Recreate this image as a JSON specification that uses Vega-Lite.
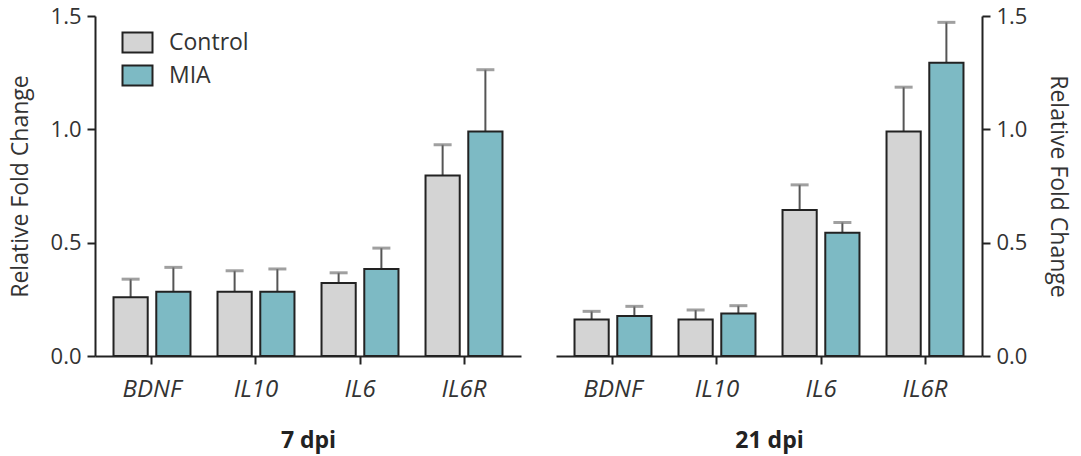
{
  "$schema": "https://vega.github.io/schema/vega-lite/v6.json",
  "background": "white",
  "padding": {"left": 9, "top": 5, "right": 7, "bottom": 4},
  "datasets": {
    "expr": [
      {"dpi": "7 dpi", "gene": "BDNF", "group": "Control", "mean": 0.259, "upper": 0.339},
      {"dpi": "7 dpi", "gene": "BDNF", "group": "MIA", "mean": 0.284, "upper": 0.391},
      {"dpi": "7 dpi", "gene": "IL10", "group": "Control", "mean": 0.284, "upper": 0.376},
      {"dpi": "7 dpi", "gene": "IL10", "group": "MIA", "mean": 0.284, "upper": 0.384},
      {"dpi": "7 dpi", "gene": "IL6", "group": "Control", "mean": 0.322, "upper": 0.367},
      {"dpi": "7 dpi", "gene": "IL6", "group": "MIA", "mean": 0.384, "upper": 0.476},
      {"dpi": "7 dpi", "gene": "IL6R", "group": "Control", "mean": 0.796, "upper": 0.932},
      {"dpi": "7 dpi", "gene": "IL6R", "group": "MIA", "mean": 0.99, "upper": 1.263},
      {"dpi": "21 dpi", "gene": "BDNF", "group": "Control", "mean": 0.161, "upper": 0.197},
      {"dpi": "21 dpi", "gene": "BDNF", "group": "MIA", "mean": 0.177, "upper": 0.219},
      {"dpi": "21 dpi", "gene": "IL10", "group": "Control", "mean": 0.161, "upper": 0.203},
      {"dpi": "21 dpi", "gene": "IL10", "group": "MIA", "mean": 0.188, "upper": 0.222},
      {"dpi": "21 dpi", "gene": "IL6", "group": "Control", "mean": 0.644, "upper": 0.755},
      {"dpi": "21 dpi", "gene": "IL6", "group": "MIA", "mean": 0.544, "upper": 0.589},
      {"dpi": "21 dpi", "gene": "IL6R", "group": "Control", "mean": 0.99, "upper": 1.186},
      {"dpi": "21 dpi", "gene": "IL6R", "group": "MIA", "mean": 1.294, "upper": 1.472}
    ]
  },
  "config": {
    "view": {"stroke": null},
    "font": "Open Sans",
    "axis": {
      "grid": false,
      "domainColor": "#222",
      "domainWidth": 2,
      "tickColor": "#222",
      "tickWidth": 2,
      "tickSize": 8,
      "labelFont": "Open Sans",
      "labelFontSize": 22,
      "labelColor": "#333",
      "titleFont": "Open Sans",
      "titleFontSize": 23,
      "titleColor": "#333",
      "titleFontWeight": "normal"
    }
  },
  "spacing": 35,
  "resolve": {"scale": {"color": "independent"}, "legend": {"color": "independent"}},
  "hconcat": [
    {
      "width": 426,
      "height": 340,
      "data": {"name": "expr"},
      "transform": [{"filter": "datum.dpi == '7 dpi'"}],
      "encoding": {
        "x": {
          "field": "gene", "type": "nominal",
          "sort": ["BDNF", "IL10", "IL6", "IL6R"],
          "scale": {"paddingInner": 0.26, "paddingOuter": 0.178},
          "axis": {"title": "7 dpi", "labelAngle": 0, "labelFontStyle": "italic", "labelFontSize": 24, "labelPadding": 13,
                   "titleFontWeight": "bold", "titleFontSize": 23, "titleColor": "#222", "titlePadding": 28}
        },
        "xOffset": {
          "field": "group", "type": "nominal", "sort": ["Control", "MIA"],
          "scale": {"paddingInner": 0.2, "paddingOuter": 0}
        },
        "y": {
          "field": "mean", "type": "quantitative",
          "title": "Relative Fold Change",
          "scale": {"domain": [0, 1.5]},
          "axis": {"values": [0, 0.5, 1, 1.5], "format": ".1f", "labelPadding": 6, "titlePadding": 18}
        }
      },
      "layer": [
        {
          "mark": {"type": "rule", "color": "#555", "strokeWidth": 2},
          "encoding": {"y2": {"field": "upper"}}
        },
        {
          "mark": {"type": "tick", "color": "#777", "thickness": 3, "size": 18, "orient": "horizontal"},
          "encoding": {"y": {"field": "upper", "type": "quantitative", "title": "Relative Fold Change"}}
        },
        {
          "mark": {"type": "bar", "stroke": "#222", "strokeWidth": 2},
          "encoding": {
            "color": {
              "field": "group", "type": "nominal",
              "scale": {"domain": ["Control", "MIA"], "range": ["#d4d4d4", "#7dbac4"]},
              "legend": {
                "orient": "none", "legendX": 31, "legendY": 15, "title": null,
                "symbolType": "M-1.5,-1H1.5V1H-1.5Z", "symbolSize": 400,
                "symbolStrokeColor": "#222", "symbolStrokeWidth": 2, "symbolOpacity": 1,
                "labelFont": "Open Sans", "labelFontSize": 23, "labelColor": "#333",
                "labelOffset": 20, "rowPadding": 4
              }
            },
            "opacity": {"value": 1}
          }
        }
      ]
    },
    {
      "width": 426,
      "height": 340,
      "data": {"name": "expr"},
      "transform": [{"filter": "datum.dpi == '21 dpi'"}],
      "encoding": {
        "x": {
          "field": "gene", "type": "nominal",
          "sort": ["BDNF", "IL10", "IL6", "IL6R"],
          "scale": {"paddingInner": 0.26, "paddingOuter": 0.178},
          "axis": {"title": "21 dpi", "labelAngle": 0, "labelFontStyle": "italic", "labelFontSize": 24, "labelPadding": 13,
                   "titleFontWeight": "bold", "titleFontSize": 23, "titleColor": "#222", "titlePadding": 28}
        },
        "xOffset": {
          "field": "group", "type": "nominal", "sort": ["Control", "MIA"],
          "scale": {"paddingInner": 0.2, "paddingOuter": 0}
        },
        "y": {
          "field": "mean", "type": "quantitative",
          "title": "Relative Fold Change",
          "scale": {"domain": [0, 1.5]},
          "axis": {"orient": "right", "values": [0, 0.5, 1, 1.5], "format": ".1f", "labelPadding": 6, "titlePadding": 19}
        }
      },
      "layer": [
        {
          "mark": {"type": "rule", "color": "#555", "strokeWidth": 2},
          "encoding": {"y2": {"field": "upper"}}
        },
        {
          "mark": {"type": "tick", "color": "#777", "thickness": 3, "size": 18, "orient": "horizontal"},
          "encoding": {"y": {"field": "upper", "type": "quantitative", "title": "Relative Fold Change"}}
        },
        {
          "mark": {"type": "bar", "stroke": "#222", "strokeWidth": 2},
          "encoding": {
            "color": {
              "field": "group", "type": "nominal",
              "scale": {"domain": ["Control", "MIA"], "range": ["#d4d4d4", "#7dbac4"]},
              "legend": null
            },
            "opacity": {"value": 1}
          }
        }
      ]
    }
  ]
}
